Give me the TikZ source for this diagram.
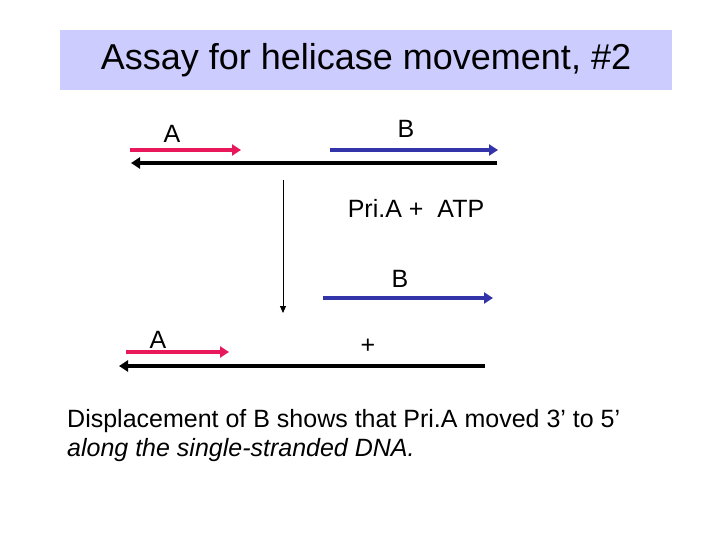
\documentclass[tikz,border=0pt]{standalone}
\usepackage{fontspec}
\setmainfont{Liberation Sans}
\usetikzlibrary{arrows.meta}
\definecolor{titlebg}{RGB}{204,204,255}
\definecolor{redS}{RGB}{232,24,90}
\definecolor{blueS}{RGB}{51,51,170}
\begin{document}
\begin{tikzpicture}[x=1pt,y=-1pt,
  strand/.style={line width=4pt,-{Triangle[length=9pt,width=11pt]}},
  lbl/.style={font=\fontsize{25}{30}\selectfont,inner sep=0pt}]
\useasboundingbox (0,0) rectangle (720,540);
\fill[white] (0,0) rectangle (720,540);
\node[fill=titlebg,minimum width=612pt,minimum height=60pt,inner sep=0pt,font=\fontsize{36}{42}\selectfont] (title) at (366,60) {Assay for helicase movement, \#2};
% top
\coordinate (r1s) at (130,150); \coordinate (r1e) at (241,150);
\coordinate (b1s) at (330,150); \coordinate (b1e) at (498,150);
\coordinate (k1s) at (497,163); \coordinate (k1e) at (131,163);
\draw[strand,redS] (r1s) -- (r1e);
\draw[strand,blueS] (b1s) -- (b1e);
\draw[strand,black] (k1s) -- (k1e);
\node[lbl] (A1) at (172,134) {A};
\node[lbl] (B1) at (406,129) {B};
% step arrow
\coordinate (v1) at (283,180); \coordinate (v2) at (283,313);
\draw[line width=1pt,-{Triangle[length=7pt,width=6pt]}] (v1) -- (v2);
\node[lbl] (pa) at (416,208) {Pri.A +\ \ ATP};
% bottom
\node[lbl] (B2) at (400,279) {B};
\coordinate (b2s) at (323,298); \coordinate (b2e) at (493,298);
\draw[strand,blueS] (b2s) -- (b2e);
\node[lbl] (A2) at (158,340) {A};
\coordinate (r2s) at (126,352); \coordinate (r2e) at (229,352);
\draw[strand,redS] (r2s) -- (r2e);
\node[lbl] (plus) at (368,346) {+};
\coordinate (k2s) at (485,366); \coordinate (k2e) at (119,366);
\draw[strand,black] (k2s) -- (k2e);
\node[lbl,anchor=west] (t1) at (67,421) {Displacement of B shows that Pri.A moved 3’ to 5’};
\node[lbl,anchor=west,font=\fontsize{25}{30}\selectfont\itshape] (t2) at (67,450) {along the single-stranded DNA.};
\end{tikzpicture}
\end{document}
